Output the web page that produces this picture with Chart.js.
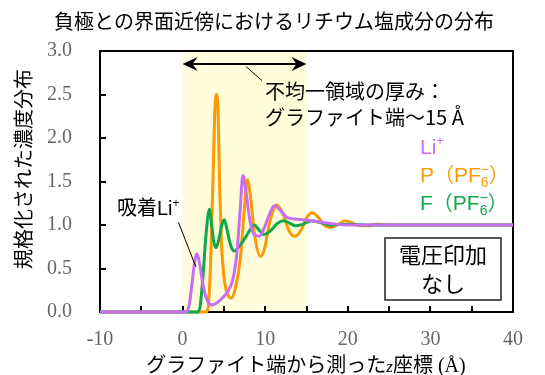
<!DOCTYPE html>
<html>
<head>
<meta charset="utf-8">
<script src="https://cdn.jsdelivr.net/npm/chart.js@4/dist/chart.umd.min.js"></script>
<style>
html, body { margin: 0; padding: 0; background: #fff; }
</style>
</head>
<body>
<canvas id="chart" width="545" height="375"></canvas>
<script>
// normalised concentration vs z (Å)
const liX = [-10, 0.4, 0.8, 1.2, 1.5, 1.75, 2.05, 2.5, 3.0, 3.5, 4.2, 4.9, 5.5, 6.1, 6.6, 6.95, 7.3, 7.65, 8.1, 8.6, 9.3, 9.9, 10.5, 11.1, 11.8, 12.6, 13.5, 14.5, 15.5, 17, 18.5, 20, 23, 40];
const liY = [0, 0, 0.08, 0.38, 0.6, 0.67, 0.56, 0.3, 0.13, 0.08, 0.11, 0.17, 0.24, 0.38, 0.7, 1.15, 1.57, 1.4, 1.08, 0.9, 0.87, 0.97, 1.12, 1.22, 1.17, 1.09, 1.07, 1.06, 1.05, 1.03, 1.01, 1.0, 1.0, 1.0];

const pX = [-10, 2.8, 3.1, 3.4, 3.7, 3.9, 4.1, 4.3, 4.5, 4.7, 5.05, 5.45, 5.9, 6.4, 7.0, 7.45, 7.85, 8.25, 8.7, 9.4, 9.9, 10.6, 11.4, 12.2, 12.9, 13.6, 14.4, 15.0, 15.7, 16.5, 17.1, 17.8, 18.7, 19.7, 20.6, 21.5, 22.5, 23.5, 25, 40];
const pY = [0, 0, 0.05, 0.6, 1.6, 2.3, 2.5, 2.3, 1.4, 0.8, 0.37, 0.2, 0.16, 0.28, 0.62, 1.15, 1.52, 1.3, 0.9, 0.64, 0.72, 1.05, 1.23, 1.12, 0.93, 0.87, 0.95, 1.08, 1.14, 1.08, 1.0, 0.97, 1.0, 1.05, 1.02, 0.99, 0.99, 1.01, 1.0, 1.0];

const fX = [-10, 1.8, 2.1, 2.5, 2.8, 3.25, 3.5, 3.75, 4.05, 4.4, 4.75, 5.05, 5.35, 5.8, 6.25, 6.9, 7.7, 8.2, 8.7, 9.2, 9.8, 10.6, 11.5, 12.2, 13.0, 13.7, 14.6, 15.6, 16.6, 18, 20, 22, 40];
const fY = [0, 0, 0.05, 0.45, 0.85, 1.18, 1.02, 0.82, 0.74, 0.84, 1.0, 1.06, 0.96, 0.77, 0.70, 0.76, 0.87, 0.95, 1.0, 0.95, 0.89, 0.93, 1.02, 1.05, 1.02, 0.99, 1.01, 1.05, 1.03, 1.0, 1.01, 1.0, 1.0];

// shaded non-uniform region (Å)
const bandFrom = 0;
const bandTo = 15;

const cLi = "#C86EF5";
const cP = "#FF9900";
const cF = "#10A84A";

const JP = '"Noto Sans CJK JP", sans-serif';
const SANS = '"Liberation Sans", Arial, sans-serif';
const SERIF = '"Liberation Serif", "Times New Roman", serif';

const pts = (xs, ys) => xs.map((x, i) => ({ x: x, y: ys[i] }));

function richWidth(ctx, segs) {
	let w = 0;
	for (const s of segs) {
		ctx.font = s.f;
		if (!s.stay) w += ctx.measureText(s.t).width;
	}
	return w;
}

function rich(ctx, x, y, segs) {
	let cx = x;
	for (const s of segs) {
		ctx.font = s.f;
		if (s.c) ctx.fillStyle = s.c;
		ctx.fillText(s.t, cx, y + (s.dy || 0));
		if (!s.stay) cx += ctx.measureText(s.t).width;
	}
}

function arrowHead(ctx, tx, ty, dir) {
	ctx.beginPath();
	ctx.moveTo(tx, ty);
	ctx.lineTo(tx + dir * 15, ty - 7);
	ctx.lineTo(tx + dir * 10, ty);
	ctx.lineTo(tx + dir * 15, ty + 7);
	ctx.closePath();
	ctx.fill();
}

const deco = {
	id: "deco",
	beforeDatasetsDraw(chart) {
		const { ctx, chartArea: a, scales: { x, y } } = chart;
		ctx.save();
		const x0 = x.getPixelForValue(bandFrom);
		const x1 = x.getPixelForValue(bandTo);
		ctx.fillStyle = "rgb(255,253,218)";
		ctx.fillRect(x0, a.top, x1 - x0, a.bottom - a.top);

		ctx.strokeStyle = "#000";
		ctx.lineWidth = 2;
		ctx.strokeRect(a.left, a.top, a.right - a.left, a.bottom - a.top);
		ctx.beginPath();
		for (let v = -10; v <= 40; v += 5) {
			const px = Math.round(x.getPixelForValue(v));
			ctx.moveTo(px, a.bottom);
			ctx.lineTo(px, a.bottom - 6);
		}
		for (let v = 0; v <= 3; v += 0.5) {
			const py = Math.round(y.getPixelForValue(v));
			ctx.moveTo(a.left, py);
			ctx.lineTo(a.left + 6, py);
		}
		ctx.stroke();
		ctx.restore();
	},
	afterDraw(chart) {
		const { ctx, chartArea: a, scales: { x, y } } = chart;
		ctx.save();
		ctx.fillStyle = "#000";
		ctx.strokeStyle = "#000";

		// title
		ctx.textAlign = "center";
		ctx.textBaseline = "middle";
		ctx.font = "20px " + JP;
		ctx.fillText("負極との界面近傍におけるリチウム塩成分の分布", 274, 21);

		// y axis title
		ctx.save();
		ctx.translate(23, 169);
		ctx.rotate(-Math.PI / 2);
		ctx.fillText("規格化された濃度分布", 0, 0);
		ctx.restore();

		// x axis title
		ctx.textAlign = "left";
		ctx.textBaseline = "alphabetic";
		const xt = [
			{ t: "グラファイト端から測った", f: "20px " + JP },
			{ t: "z", f: "italic 17px " + SERIF },
			{ t: "座標", f: "20px " + JP },
			{ t: " (Å)", f: "20px " + SERIF },
		];
		rich(ctx, 306 - richWidth(ctx, xt) / 2, 372, xt);

		// double arrow for the band width
		const ay = y.getPixelForValue(2.85);
		const ax0 = x.getPixelForValue(bandFrom);
		const ax1 = x.getPixelForValue(bandTo);
		ctx.lineWidth = 2;
		ctx.beginPath();
		ctx.moveTo(ax0 + 8, ay);
		ctx.lineTo(ax1 - 8, ay);
		ctx.stroke();
		arrowHead(ctx, ax0, ay, 1);
		arrowHead(ctx, ax1, ay, -1);

		ctx.lineWidth = 1;
		ctx.beginPath();
		ctx.moveTo(x.getPixelForValue(7.7), y.getPixelForValue(2.82));
		ctx.lineTo(x.getPixelForValue(9.6), y.getPixelForValue(2.66));
		ctx.stroke();

		ctx.textBaseline = "middle";
		ctx.font = "20px " + JP;
		ctx.fillText("不均一領域の厚み：", 265, 91);
		ctx.fillText("グラファイト端～15 Å", 265, 117);

		// adsorbed Li+ label
		ctx.beginPath();
		ctx.moveTo(x.getPixelForValue(-0.5), y.getPixelForValue(1.03));
		ctx.lineTo(x.getPixelForValue(1.6), y.getPixelForValue(0.52));
		ctx.stroke();
		ctx.textBaseline = "alphabetic";
		rich(ctx, 117, 215, [
			{ t: "吸着", f: "20px " + JP },
			{ t: "Li", f: "20px " + SANS },
			{ t: "+", f: "12px " + SANS, dy: -8 },
		]);

		// series labels
		rich(ctx, 420, 154, [
			{ t: "Li", f: "21px " + SANS, c: cLi },
			{ t: "+", f: "13px " + SANS, dy: -9 },
		]);
		const ion = (head, col, by) => rich(ctx, 420, by, [
			{ t: head, f: "21px " + SANS, c: col },
			{ t: "（", f: "20px " + JP },
			{ t: "PF", f: "21px " + SANS },
			{ t: "6", f: "14px " + SANS, dy: 5, stay: true },
			{ t: "−", f: "14px " + SANS, dy: -8 },
			{ t: "）", f: "20px " + JP },
		]);
		ion("P", cP, 182);
		ion("F", cF, 210);

		// no-voltage box
		ctx.fillStyle = "#fff";
		ctx.fillRect(385, 238, 116, 62);
		ctx.strokeStyle = "#222";
		ctx.lineWidth = 1.5;
		ctx.strokeRect(385, 238, 116, 62);
		ctx.fillStyle = "#000";
		ctx.textAlign = "center";
		ctx.textBaseline = "middle";
		ctx.font = "22px " + JP;
		ctx.fillText("電圧印加", 443, 255);
		ctx.fillText("なし", 443, 284);
		ctx.restore();
	},
};

const tickFont = { family: SERIF, size: 20 };

new Chart(document.getElementById("chart"), {
	type: "line",
	data: {
		datasets: [
			{ label: "Li+", data: pts(liX, liY), borderColor: cLi, order: 0 },
			{ label: "F(PF6-)", data: pts(fX, fY), borderColor: cF, order: 1 },
			{ label: "P(PF6-)", data: pts(pX, pY), borderColor: cP, order: 2 },
		],
	},
	options: {
		responsive: false,
		animation: false,
		devicePixelRatio: 1,
		layout: { padding: { top: 51, right: 32, left: 0, bottom: 0 } },
		elements: {
			line: { borderWidth: 3, cubicInterpolationMode: "monotone", fill: false },
			point: { radius: 0 },
		},
		datasets: { line: { clip: false } },
		scales: {
			x: {
				type: "linear",
				min: -10,
				max: 40,
				ticks: { stepSize: 10, font: tickFont, color: "#666", padding: 16 },
				grid: { display: false, drawTicks: false },
				border: { display: false },
				afterFit(s) { s.height = 63; },
			},
			y: {
				min: 0,
				max: 3,
				ticks: { stepSize: 0.5, font: tickFont, color: "#666", padding: 28, callback: (v) => v.toFixed(1) },
				grid: { display: false, drawTicks: false },
				border: { display: false },
				afterFit(s) { s.width = 100; },
			},
		},
		plugins: {
			legend: { display: false },
			tooltip: { enabled: false },
		},
	},
	plugins: [deco],
});
</script>
</body>
</html>
